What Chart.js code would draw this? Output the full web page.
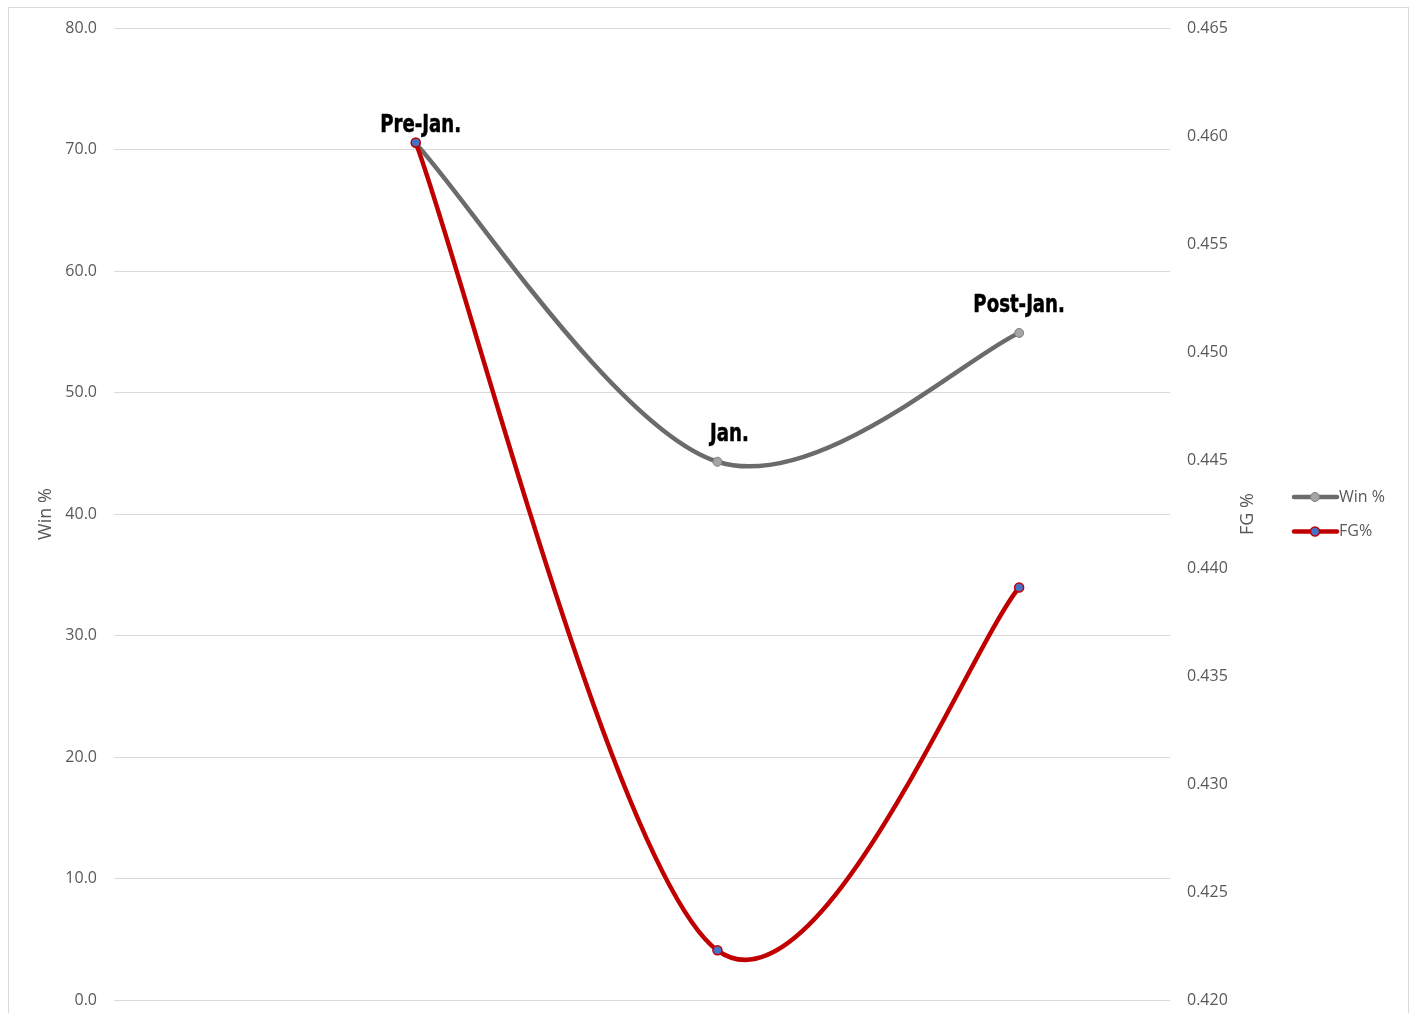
<!DOCTYPE html>
<html>
<head>
<meta charset="utf-8">
<script src="https://cdn.jsdelivr.net/npm/chart.js@4.4.1/dist/chart.umd.min.js"></script>
<style>
  html, body { margin: 0; padding: 0; background: #ffffff; overflow: hidden; }
  #wrap { position: absolute; left: 0; top: 0; width: 1413px; height: 1013px; }
</style>
</head>
<body>
<div id="wrap"><canvas id="c" width="1413" height="1013"></canvas></div>
<script>
// Periods of the season and the two measures tracked for each
const periods = ['Pre-Jan.', 'Jan.', 'Post-Jan.'];
const winPct = [70.5, 44.3, 54.9];
const fgPct = [0.4597, 0.4223, 0.4391];

// Axis ranges
const winAxis = { min: 0, max: 80, step: 10, decimals: 1, title: 'Win %' };
const fgAxis = { min: 0.42, max: 0.465, step: 0.005, decimals: 3, title: 'FG %' };

const TEXT_GREY = '#595959';
const FONT = '"Open Sans", "DejaVu Sans", sans-serif';

// Places each period at 1, 2, 3 ... along a hidden linear x scale
const toPoints = (vals) => vals.map((v, i) => ({ x: i + 1, y: v }));

// Catmull-Rom style smoothing: each tangent is one sixth of the chord
// between the neighbouring points (end points reuse themselves).
const smoothCurve = {
  id: 'smoothCurve',
  beforeDatasetDraw(chart, args) {
    const meta = args.meta;
    const line = meta.dataset;
    line.updateControlPoints(chart.chartArea, 'x');
    const pts = meta.data;
    const n = pts.length;
    for (let i = 0; i < n; i++) {
      const prev = pts[Math.max(i - 1, 0)];
      const next = pts[Math.min(i + 1, n - 1)];
      const dx = (next.x - prev.x) / 6;
      const dy = (next.y - prev.y) / 6;
      pts[i].cp1x = pts[i].x - dx;
      pts[i].cp1y = pts[i].y - dy;
      pts[i].cp2x = pts[i].x + dx;
      pts[i].cp2y = pts[i].y + dy;
    }
    line._path = undefined;
  }
};

const decor = {
  id: 'decor',
  beforeDraw(chart) {
    const ctx = chart.ctx;
    ctx.save();
    ctx.strokeStyle = '#d9d9d9';
    ctx.lineWidth = 1;
    ctx.strokeRect(8.5, 7.5, 1400, 1100);
    ctx.restore();
  },
  afterDraw(chart) {
    const ctx = chart.ctx;
    const area = chart.chartArea;
    const midY = (area.top + area.bottom) / 2;

    // axis titles, both reading upward
    ctx.save();
    ctx.fillStyle = TEXT_GREY;
    ctx.font = '18px ' + FONT;
    ctx.textAlign = 'center';
    ctx.textBaseline = 'middle';
    [[46, winAxis.title], [1248, fgAxis.title]].forEach(([x, t]) => {
      ctx.save();
      ctx.translate(x, midY);
      ctx.rotate(-Math.PI / 2);
      ctx.fillText(t, 0, 0);
      ctx.restore();
    });
    ctx.restore();

    // legend on the right
    ctx.save();
    const legendX = 1294, legendY = 497, rowGap = 34.5;
    chart.data.datasets.forEach((ds, i) => {
      const y = legendY + i * rowGap;
      ctx.strokeStyle = ds.borderColor;
      ctx.lineWidth = ds.borderWidth;
      ctx.lineCap = 'round';
      ctx.beginPath();
      ctx.moveTo(legendX, y);
      ctx.lineTo(legendX + 43, y);
      ctx.stroke();
      ctx.beginPath();
      ctx.arc(legendX + 21, y, ds.pointRadius, 0, Math.PI * 2);
      ctx.fillStyle = ds.pointBackgroundColor;
      ctx.fill();
      ctx.lineWidth = ds.pointBorderWidth;
      ctx.strokeStyle = ds.pointBorderColor;
      ctx.stroke();
      ctx.fillStyle = TEXT_GREY;
      ctx.font = '16px ' + FONT;
      ctx.textAlign = 'left';
      ctx.textBaseline = 'middle';
      ctx.fillText(ds.label, legendX + 45, y);
    });
    ctx.restore();

    // period names above the Win % markers (heavy, condensed)
    const meta = chart.getDatasetMeta(0);
    const nudges = [[5, -11], [12, -21], [0, -21]];
    ctx.save();
    ctx.fillStyle = '#000000';
    ctx.strokeStyle = '#000000';
    ctx.lineWidth = 0.5;
    ctx.lineJoin = 'round';
    ctx.font = 'bold 24px "DejaVu Sans Condensed", "DejaVu Sans", sans-serif';
    ctx.textAlign = 'center';
    ctx.textBaseline = 'alphabetic';
    meta.data.forEach((pt, i) => {
      ctx.save();
      ctx.translate(pt.x + nudges[i][0], pt.y + nudges[i][1]);
      ctx.scale(0.84, 1);
      ctx.fillText(periods[i], 0, 0);
      ctx.strokeText(periods[i], 0, 0);
      ctx.restore();
    });
    ctx.restore();
  }
};

// Fixed axis band widths; the edge labels need no extra room above or below
const fitLeft = (s) => { s.width = 114; s.paddingTop = 0; s.paddingBottom = 0; };
const fitRight = (s) => { s.width = 243; s.paddingTop = 0; s.paddingBottom = 0; };

new Chart(document.getElementById('c'), {
  type: 'line',
  data: {
    datasets: [
      {
        label: 'Win %',
        data: toPoints(winPct),
        yAxisID: 'yWin',
        borderColor: '#6b6b6b',
        borderWidth: 4.5,
        pointRadius: 4.5,
        pointBackgroundColor: '#a5a5a5',
        pointBorderColor: '#7f7f7f',
        pointBorderWidth: 1,
        tension: 0.5,
        order: 1
      },
      {
        label: 'FG%',
        data: toPoints(fgPct),
        yAxisID: 'yFg',
        borderColor: '#c00000',
        borderWidth: 4.5,
        pointRadius: 4.5,
        pointBackgroundColor: '#4472c4',
        pointBorderColor: '#c00000',
        pointBorderWidth: 1.5,
        tension: 0.5,
        order: 0
      }
    ]
  },
  options: {
    responsive: false,
    animation: false,
    devicePixelRatio: 1,
    layout: { padding: { left: 0, right: 0, top: 28, bottom: 13 } },
    plugins: { legend: { display: false }, tooltip: { enabled: false } },
    scales: {
      x: { type: 'linear', min: 0, max: 3.5, display: false },
      yWin: {
        position: 'left',
        min: winAxis.min, max: winAxis.max,
        afterFit: fitLeft,
        border: { display: false },
        grid: { color: '#d9d9d9', lineWidth: 1, drawTicks: false },
        ticks: {
          stepSize: winAxis.step,
          padding: 17,
          color: TEXT_GREY,
          font: { family: FONT, size: 16 },
          callback: (v) => Number(v).toFixed(winAxis.decimals)
        }
      },
      yFg: {
        position: 'right',
        min: fgAxis.min, max: fgAxis.max,
        afterFit: fitRight,
        border: { display: false },
        grid: { display: false, drawTicks: false },
        ticks: {
          stepSize: fgAxis.step,
          padding: 17,
          color: TEXT_GREY,
          font: { family: FONT, size: 16 },
          callback: (v) => Number(v).toFixed(fgAxis.decimals)
        }
      }
    }
  },
  plugins: [smoothCurve, decor]
});
</script>
</body>
</html>
